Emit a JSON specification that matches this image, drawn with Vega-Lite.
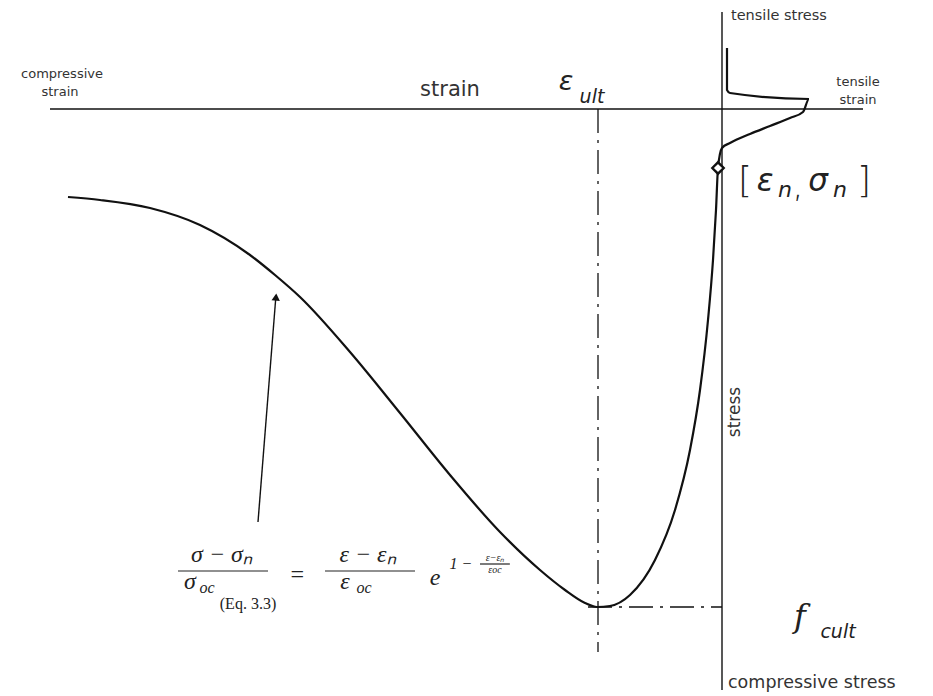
{
  "$schema": "https://vega.github.io/schema/vega-lite/v6.json",
  "width": 933,
  "height": 696,
  "autosize": {"type": "fit", "contains": "padding"},
  "padding": 0,
  "background": "#ffffff",
  "config": {"view": {"stroke": null}},
  "datasets": {
    "curve": [
      {"i": 1, "strain": -6.54, "stress": -0.88},
      {"i": 2, "strain": -6.22, "stress": -0.91},
      {"i": 3, "strain": -5.72, "stress": -0.99},
      {"i": 4, "strain": -5.22, "stress": -1.16},
      {"i": 5, "strain": -4.72, "stress": -1.46},
      {"i": 6, "strain": -4.47, "stress": -1.66},
      {"i": 7, "strain": -4.22, "stress": -1.88},
      {"i": 8, "strain": -3.72, "stress": -2.43},
      {"i": 9, "strain": -3.22, "stress": -3.04},
      {"i": 10, "strain": -2.72, "stress": -3.66},
      {"i": 11, "strain": -2.22, "stress": -4.23},
      {"i": 12, "strain": -1.82, "stress": -4.61},
      {"i": 13, "strain": -1.57, "stress": -4.81},
      {"i": 14, "strain": -1.37, "stress": -4.94},
      {"i": 15, "strain": -1.25, "stress": -4.98},
      {"i": 16, "strain": -1.12, "stress": -4.97},
      {"i": 17, "strain": -0.92, "stress": -4.86},
      {"i": 18, "strain": -0.67, "stress": -4.51},
      {"i": 19, "strain": -0.47, "stress": -4.01},
      {"i": 20, "strain": -0.32, "stress": -3.41},
      {"i": 21, "strain": -0.22, "stress": -2.81},
      {"i": 22, "strain": -0.14, "stress": -2.11},
      {"i": 23, "strain": -0.09, "stress": -1.51},
      {"i": 24, "strain": -0.06, "stress": -1.01},
      {"i": 25, "strain": -0.04, "stress": -0.59},
      {"i": 26, "strain": 0.0, "stress": -0.39},
      {"i": 27, "strain": 0.08, "stress": -0.34},
      {"i": 28, "strain": 0.28, "stress": -0.25},
      {"i": 29, "strain": 0.48, "stress": -0.17},
      {"i": 30, "strain": 0.68, "stress": -0.09},
      {"i": 31, "strain": 0.81, "stress": -0.03},
      {"i": 32, "strain": 0.87, "stress": 0.10},
      {"i": 33, "strain": 0.08, "stress": 0.16},
      {"i": 34, "strain": 0.05, "stress": 0.19},
      {"i": 35, "strain": 0.05, "stress": 0.61}
    ],
    "point": [
      {"strain": -0.04, "stress": -0.59}
    ],
    "lines": [
      {"kind": "axis", "x": -6.72, "x2": 1.41, "y": 0, "y2": 0},
      {"kind": "axis", "x": 0, "x2": 0, "y": 0.97, "y2": -5.81},
      {"kind": "ult", "x": -1.24, "x2": -1.24, "y": 0, "y2": -5.43},
      {"kind": "fc", "x": -1.34, "x2": 0, "y": -4.98, "y2": -4.98},
      {"kind": "bar", "x": -5.44, "x2": -4.54, "y": -4.62, "y2": -4.62},
      {"kind": "bar", "x": -3.97, "x2": -3.07, "y": -4.62, "y2": -4.62},
      {"kind": "bar", "x": -2.42, "x2": -2.12, "y": -4.55, "y2": -4.55},
      {"kind": "arrow", "x": -4.64, "x2": -4.46, "y": -4.13, "y2": -1.86}
    ],
    "arrowhead": [
      {"x": -4.46, "y": -1.88}
    ],
    "labels": [
      {"kind": "small", "x": -6.60, "y": 0.35, "label": "compressive"},
      {"kind": "small", "x": -6.62, "y": 0.17, "label": "strain"},
      {"kind": "small", "x": 1.36, "y": 0.27, "label": "tensile"},
      {"kind": "small", "x": 1.36, "y": 0.09, "label": "strain"},
      {"kind": "smallleft", "x": 0.09, "y": 0.93, "label": "tensile stress"},
      {"kind": "bottomleft", "x": 0.06, "y": -5.74, "label": "compressive stress"},
      {"kind": "main", "x": -2.72, "y": 0.19, "label": "strain"},
      {"kind": "vert", "x": 0.13, "y": -3.03, "label": "stress"},
      {"kind": "greek", "x": -1.56, "y": 0.27, "label": "ε"},
      {"kind": "sub", "x": -1.30, "y": 0.12, "label": "ult"},
      {"kind": "bracket", "x": 0.23, "y": -0.72, "label": "["},
      {"kind": "greekbig", "x": 0.43, "y": -0.73, "label": "ε"},
      {"kind": "subn", "x": 0.63, "y": -0.81, "label": "n"},
      {"kind": "bracket", "x": 0.76, "y": -0.77, "label": ","},
      {"kind": "greekbig", "x": 0.96, "y": -0.73, "label": "σ"},
      {"kind": "subn", "x": 1.18, "y": -0.81, "label": "n"},
      {"kind": "bracket", "x": 1.42, "y": -0.72, "label": "]"},
      {"kind": "sub", "x": 1.16, "y": -5.23, "label": "cult"},
      {"kind": "f", "x": 0.78, "y": -5.08, "label": "f"},
      {"kind": "math", "x": -5.00, "y": -4.46, "label": "σ  −  σₙ"},
      {"kind": "math", "x": -5.32, "y": -4.73, "label": "σ"},
      {"kind": "math", "x": -4.25, "y": -4.66, "label": "="},
      {"kind": "math", "x": -3.54, "y": -4.46, "label": "ε  −  εₙ"},
      {"kind": "math", "x": -3.77, "y": -4.73, "label": "ε"},
      {"kind": "math", "x": -2.87, "y": -4.69, "label": "e"},
      {"kind": "mathsub", "x": -5.15, "y": -4.79, "label": "oc"},
      {"kind": "mathsub", "x": -3.58, "y": -4.79, "label": "oc"},
      {"kind": "mathsub", "x": -2.61, "y": -4.55, "label": "1 −"},
      {"kind": "mathtiny", "x": -2.27, "y": -4.49, "label": "ε−εₙ"},
      {"kind": "mathtiny", "x": -2.27, "y": -4.61, "label": "εoc"},
      {"kind": "eq", "x": -4.74, "y": -4.95, "label": "(Eq. 3.3)"}
    ]
  },
  "layer": [
    {
      "data": {"name": "lines"},
      "transform": [{"filter": "datum.kind === 'axis' || datum.kind === 'arrow'"}],
      "mark": {"type": "rule", "color": "#111111", "strokeWidth": 1.4},
      "encoding": {
        "x": {"field": "x", "type": "quantitative", "scale": {"domain": [-7.22, 2.11], "nice": false, "zero": false}, "axis": null},
        "x2": {"field": "x2"},
        "y": {"field": "y", "type": "quantitative", "scale": {"domain": [-5.87, 1.09], "nice": false, "zero": false}, "axis": null},
        "y2": {"field": "y2"}
      }
    },
    {
      "data": {"name": "lines"},
      "transform": [{"filter": "datum.kind === 'bar'"}],
      "mark": {"type": "rule", "color": "#222222", "strokeWidth": 1.2},
      "encoding": {
        "x": {"field": "x", "type": "quantitative", "scale": {"domain": [-7.22, 2.11], "nice": false, "zero": false}, "axis": null},
        "x2": {"field": "x2"},
        "y": {"field": "y", "type": "quantitative", "scale": {"domain": [-5.87, 1.09], "nice": false, "zero": false}, "axis": null},
        "y2": {"field": "y2"}
      }
    },
    {
      "data": {"name": "lines"},
      "transform": [{"filter": "datum.kind === 'ult' || datum.kind === 'fc'"}],
      "mark": {"type": "rule", "color": "#111111", "strokeWidth": 1.3, "strokeDash": [24, 7, 3, 7]},
      "encoding": {
        "x": {"field": "x", "type": "quantitative", "scale": {"domain": [-7.22, 2.11], "nice": false, "zero": false}, "axis": null},
        "x2": {"field": "x2"},
        "y": {"field": "y", "type": "quantitative", "scale": {"domain": [-5.87, 1.09], "nice": false, "zero": false}, "axis": null},
        "y2": {"field": "y2"}
      }
    },
    {
      "data": {"name": "curve"},
      "mark": {"type": "line", "color": "#111111", "strokeWidth": 2.2, "interpolate": "monotone"},
      "encoding": {
        "x": {"field": "strain", "type": "quantitative", "scale": {"domain": [-7.22, 2.11], "nice": false, "zero": false}, "axis": null},
        "y": {"field": "stress", "type": "quantitative", "scale": {"domain": [-5.87, 1.09], "nice": false, "zero": false}, "axis": null},
        "order": {"field": "i", "type": "quantitative"}
      }
    },
    {
      "data": {"name": "point"},
      "mark": {"type": "point", "shape": "diamond", "filled": true, "fill": "#ffffff", "stroke": "#111111", "strokeWidth": 2.4, "size": 130, "opacity": 1},
      "encoding": {
        "x": {"field": "strain", "type": "quantitative", "scale": {"domain": [-7.22, 2.11], "nice": false, "zero": false}, "axis": null},
        "y": {"field": "stress", "type": "quantitative", "scale": {"domain": [-5.87, 1.09], "nice": false, "zero": false}, "axis": null}
      }
    },
    {
      "data": {"name": "arrowhead"},
      "mark": {"type": "point", "shape": "triangle-up", "filled": true, "color": "#111111", "size": 70, "angle": 4.5, "opacity": 1},
      "encoding": {
        "x": {"field": "x", "type": "quantitative", "scale": {"domain": [-7.22, 2.11], "nice": false, "zero": false}, "axis": null},
        "y": {"field": "y", "type": "quantitative", "scale": {"domain": [-5.87, 1.09], "nice": false, "zero": false}, "axis": null}
      }
    },
    {
      "data": {"name": "labels"},
      "transform": [{"filter": "datum.kind === 'small'"}],
      "mark": {"type": "text", "font": "DejaVu Sans", "fontSize": 13, "color": "#333333", "align": "center", "baseline": "middle"},
      "encoding": {
        "x": {"field": "x", "type": "quantitative", "scale": {"domain": [-7.22, 2.11], "nice": false, "zero": false}, "axis": null},
        "y": {"field": "y", "type": "quantitative", "scale": {"domain": [-5.87, 1.09], "nice": false, "zero": false}, "axis": null},
        "text": {"field": "label"}
      }
    },
    {
      "data": {"name": "labels"},
      "transform": [{"filter": "datum.kind === 'smallleft'"}],
      "mark": {"type": "text", "font": "DejaVu Sans", "fontSize": 14.5, "color": "#333333", "align": "left", "baseline": "middle"},
      "encoding": {
        "x": {"field": "x", "type": "quantitative", "scale": {"domain": [-7.22, 2.11], "nice": false, "zero": false}, "axis": null},
        "y": {"field": "y", "type": "quantitative", "scale": {"domain": [-5.87, 1.09], "nice": false, "zero": false}, "axis": null},
        "text": {"field": "label"}
      }
    },
    {
      "data": {"name": "labels"},
      "transform": [{"filter": "datum.kind === 'bottomleft'"}],
      "mark": {"type": "text", "font": "DejaVu Sans", "fontSize": 17.5, "color": "#333333", "align": "left", "baseline": "middle"},
      "encoding": {
        "x": {"field": "x", "type": "quantitative", "scale": {"domain": [-7.22, 2.11], "nice": false, "zero": false}, "axis": null},
        "y": {"field": "y", "type": "quantitative", "scale": {"domain": [-5.87, 1.09], "nice": false, "zero": false}, "axis": null},
        "text": {"field": "label"}
      }
    },
    {
      "data": {"name": "labels"},
      "transform": [{"filter": "datum.kind === 'main'"}],
      "mark": {"type": "text", "font": "DejaVu Sans", "fontSize": 21, "color": "#333333", "align": "center", "baseline": "middle"},
      "encoding": {
        "x": {"field": "x", "type": "quantitative", "scale": {"domain": [-7.22, 2.11], "nice": false, "zero": false}, "axis": null},
        "y": {"field": "y", "type": "quantitative", "scale": {"domain": [-5.87, 1.09], "nice": false, "zero": false}, "axis": null},
        "text": {"field": "label"}
      }
    },
    {
      "data": {"name": "labels"},
      "transform": [{"filter": "datum.kind === 'vert'"}],
      "mark": {"type": "text", "font": "DejaVu Sans", "fontSize": 17, "color": "#333333", "align": "center", "baseline": "middle", "angle": 270},
      "encoding": {
        "x": {"field": "x", "type": "quantitative", "scale": {"domain": [-7.22, 2.11], "nice": false, "zero": false}, "axis": null},
        "y": {"field": "y", "type": "quantitative", "scale": {"domain": [-5.87, 1.09], "nice": false, "zero": false}, "axis": null},
        "text": {"field": "label"}
      }
    },
    {
      "data": {"name": "labels"},
      "transform": [{"filter": "datum.kind === 'greek'"}],
      "mark": {"type": "text", "font": "DejaVu Sans", "fontSize": 27, "fontStyle": "italic", "color": "#222222", "align": "center", "baseline": "middle"},
      "encoding": {
        "x": {"field": "x", "type": "quantitative", "scale": {"domain": [-7.22, 2.11], "nice": false, "zero": false}, "axis": null},
        "y": {"field": "y", "type": "quantitative", "scale": {"domain": [-5.87, 1.09], "nice": false, "zero": false}, "axis": null},
        "text": {"field": "label"}
      }
    },
    {
      "data": {"name": "labels"},
      "transform": [{"filter": "datum.kind === 'greekbig'"}],
      "mark": {"type": "text", "font": "DejaVu Sans", "fontSize": 31, "fontStyle": "italic", "color": "#222222", "align": "center", "baseline": "middle"},
      "encoding": {
        "x": {"field": "x", "type": "quantitative", "scale": {"domain": [-7.22, 2.11], "nice": false, "zero": false}, "axis": null},
        "y": {"field": "y", "type": "quantitative", "scale": {"domain": [-5.87, 1.09], "nice": false, "zero": false}, "axis": null},
        "text": {"field": "label"}
      }
    },
    {
      "data": {"name": "labels"},
      "transform": [{"filter": "datum.kind === 'bracket'"}],
      "mark": {"type": "text", "font": "DejaVu Sans", "fontSize": 36, "fontWeight": 300, "color": "#222222", "align": "center", "baseline": "middle"},
      "encoding": {
        "x": {"field": "x", "type": "quantitative", "scale": {"domain": [-7.22, 2.11], "nice": false, "zero": false}, "axis": null},
        "y": {"field": "y", "type": "quantitative", "scale": {"domain": [-5.87, 1.09], "nice": false, "zero": false}, "axis": null},
        "text": {"field": "label"}
      }
    },
    {
      "data": {"name": "labels"},
      "transform": [{"filter": "datum.kind === 'subn'"}],
      "mark": {"type": "text", "font": "DejaVu Sans", "fontSize": 22, "fontStyle": "italic", "color": "#222222", "align": "center", "baseline": "middle"},
      "encoding": {
        "x": {"field": "x", "type": "quantitative", "scale": {"domain": [-7.22, 2.11], "nice": false, "zero": false}, "axis": null},
        "y": {"field": "y", "type": "quantitative", "scale": {"domain": [-5.87, 1.09], "nice": false, "zero": false}, "axis": null},
        "text": {"field": "label"}
      }
    },
    {
      "data": {"name": "labels"},
      "transform": [{"filter": "datum.kind === 'sub'"}],
      "mark": {"type": "text", "font": "DejaVu Sans", "fontSize": 19, "fontStyle": "italic", "color": "#222222", "align": "center", "baseline": "middle"},
      "encoding": {
        "x": {"field": "x", "type": "quantitative", "scale": {"domain": [-7.22, 2.11], "nice": false, "zero": false}, "axis": null},
        "y": {"field": "y", "type": "quantitative", "scale": {"domain": [-5.87, 1.09], "nice": false, "zero": false}, "axis": null},
        "text": {"field": "label"}
      }
    },
    {
      "data": {"name": "labels"},
      "transform": [{"filter": "datum.kind === 'f'"}],
      "mark": {"type": "text", "font": "DejaVu Serif", "fontSize": 32, "fontStyle": "italic", "color": "#222222", "align": "center", "baseline": "middle"},
      "encoding": {
        "x": {"field": "x", "type": "quantitative", "scale": {"domain": [-7.22, 2.11], "nice": false, "zero": false}, "axis": null},
        "y": {"field": "y", "type": "quantitative", "scale": {"domain": [-5.87, 1.09], "nice": false, "zero": false}, "axis": null},
        "text": {"field": "label"}
      }
    },
    {
      "data": {"name": "labels"},
      "transform": [{"filter": "datum.kind === 'math'"}],
      "mark": {"type": "text", "font": "Liberation Serif", "fontSize": 24, "fontStyle": "italic", "color": "#222222", "align": "center", "baseline": "middle"},
      "encoding": {
        "x": {"field": "x", "type": "quantitative", "scale": {"domain": [-7.22, 2.11], "nice": false, "zero": false}, "axis": null},
        "y": {"field": "y", "type": "quantitative", "scale": {"domain": [-5.87, 1.09], "nice": false, "zero": false}, "axis": null},
        "text": {"field": "label"}
      }
    },
    {
      "data": {"name": "labels"},
      "transform": [{"filter": "datum.kind === 'mathsub'"}],
      "mark": {"type": "text", "font": "Liberation Serif", "fontSize": 16, "fontStyle": "italic", "color": "#222222", "align": "center", "baseline": "middle"},
      "encoding": {
        "x": {"field": "x", "type": "quantitative", "scale": {"domain": [-7.22, 2.11], "nice": false, "zero": false}, "axis": null},
        "y": {"field": "y", "type": "quantitative", "scale": {"domain": [-5.87, 1.09], "nice": false, "zero": false}, "axis": null},
        "text": {"field": "label"}
      }
    },
    {
      "data": {"name": "labels"},
      "transform": [{"filter": "datum.kind === 'mathtiny'"}],
      "mark": {"type": "text", "font": "Liberation Serif", "fontSize": 10, "fontStyle": "italic", "color": "#222222", "align": "center", "baseline": "middle"},
      "encoding": {
        "x": {"field": "x", "type": "quantitative", "scale": {"domain": [-7.22, 2.11], "nice": false, "zero": false}, "axis": null},
        "y": {"field": "y", "type": "quantitative", "scale": {"domain": [-5.87, 1.09], "nice": false, "zero": false}, "axis": null},
        "text": {"field": "label"}
      }
    },
    {
      "data": {"name": "labels"},
      "transform": [{"filter": "datum.kind === 'eq'"}],
      "mark": {"type": "text", "font": "Liberation Serif", "fontSize": 16, "color": "#222222", "align": "center", "baseline": "middle"},
      "encoding": {
        "x": {"field": "x", "type": "quantitative", "scale": {"domain": [-7.22, 2.11], "nice": false, "zero": false}, "axis": null},
        "y": {"field": "y", "type": "quantitative", "scale": {"domain": [-5.87, 1.09], "nice": false, "zero": false}, "axis": null},
        "text": {"field": "label"}
      }
    }
  ]
}
